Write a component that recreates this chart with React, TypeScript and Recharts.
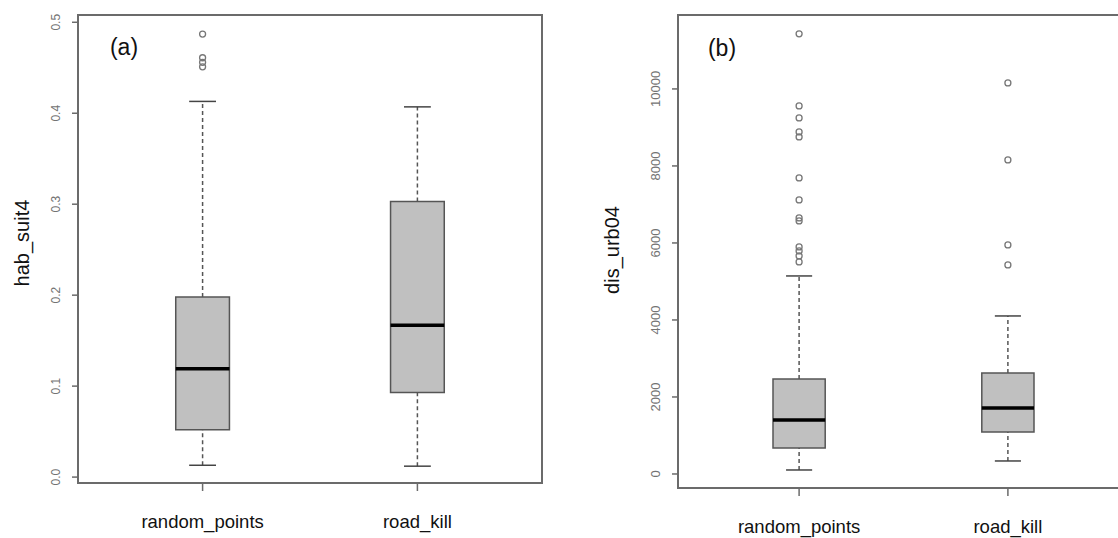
import React from "react";
import {
  ScatterChart,
  Scatter,
  XAxis,
  YAxis,
  ReferenceArea,
  ReferenceLine,
} from "recharts";

// categories shared by both panels
const categories = ["random_points", "road_kill"];

// panel (a): hab_suit4
const habTicks = [0, 0.1, 0.2, 0.3, 0.4, 0.5];
const habLow = [0.013, 0.012];
const habQ1 = [0.052, 0.093];
const habMedian = [0.119, 0.167];
const habQ3 = [0.198, 0.303];
const habHigh = [0.413, 0.407];
const habOutRandom = [0.487, 0.461, 0.456, 0.451];
const habOutRoad: number[] = [];

// panel (b): dis_urb04
const urbTicks = [0, 2000, 4000, 6000, 8000, 10000];
const urbLow = [104, 338];
const urbQ1 = [675, 1091];
const urbMedian = [1403, 1714];
const urbQ3 = [2468, 2623];
const urbHigh = [5143, 4104];
const urbOutRandom = [11430, 9558, 9247, 8883, 8753, 7688, 7117, 6650, 6571, 5896, 5792, 5662, 5507];
const urbOutRoad = [10156, 8156, 5948, 5429];

const FONT = '"Liberation Sans", Arial, Helvetica, sans-serif';
const FRAME = "#6b6b6b";
const BOX_HALF = 0.125;
const CAP_HALF = 0.0625;
const X_DOMAIN: [number, number] = [0.42, 2.58];

type Stats = {
  low: number[];
  q1: number[];
  median: number[];
  q3: number[];
  high: number[];
  outliers: number[][];
};

const outlierDot = (p: any) => (
  <circle cx={p.cx} cy={p.cy} r={3} fill="none" stroke="#777" strokeWidth={1.3} />
);

function Panel({
  width,
  height,
  axisWidth,
  axisHeight,
  rightMargin,
  yDomain,
  yTicks,
  fmt,
  tickFont,
  stats,
}: {
  width: number;
  height: number;
  axisWidth: number;
  axisHeight: number;
  rightMargin: number;
  yDomain: [number, number];
  yTicks: number[];
  fmt: (v: number) => string;
  tickFont: number;
  stats: Stats;
}) {
  const points = stats.outliers.flatMap((list, i) => list.map((v) => ({ x: i + 1, y: v })));

  const yTick = (p: any) => {
    const tx = p.x - 10;
    return (
      <text
        x={tx}
        y={p.y}
        transform={`rotate(-90 ${tx} ${p.y})`}
        textAnchor="middle"
        fontSize={tickFont}
        fontFamily={FONT}
        fill="#737373"
      >
        {fmt(p.payload.value)}
      </text>
    );
  };

  const xTick = (p: any) => (
    <text x={p.x} y={p.y + 35} textAnchor="middle" fontSize={18.5} fontFamily={FONT} fill="#111">
      {categories[p.payload.value - 1]}
    </text>
  );

  return (
    <ScatterChart
      width={width}
      height={height}
      margin={{ top: 15, right: rightMargin, bottom: 0, left: 0 }}
    >
      <XAxis
        type="number"
        dataKey="x"
        domain={X_DOMAIN}
        ticks={[1, 2]}
        allowDataOverflow
        axisLine={false}
        tickSize={8}
        tickLine={{ stroke: FRAME, strokeWidth: 1.5 }}
        tick={xTick}
        height={axisHeight}
      />
      <YAxis
        type="number"
        dataKey="y"
        domain={yDomain}
        ticks={yTicks}
        allowDataOverflow
        axisLine={false}
        tickSize={6}
        tickLine={{ stroke: FRAME, strokeWidth: 1.5 }}
        tick={yTick}
        width={axisWidth}
      />
      <ReferenceArea
        x1={X_DOMAIN[0]}
        x2={X_DOMAIN[1]}
        y1={yDomain[0]}
        y2={yDomain[1]}
        fill="none"
        stroke={FRAME}
        strokeWidth={2}
      />
      {categories.map((c, i) => {
        const x = i + 1;
        return (
          <React.Fragment key={c}>
            <ReferenceLine
              segment={[{ x, y: stats.q3[i] }, { x, y: stats.high[i] }]}
              stroke="#555"
              strokeWidth={1.5}
              strokeDasharray="4 3"
            />
            <ReferenceLine
              segment={[{ x, y: stats.low[i] }, { x, y: stats.q1[i] }]}
              stroke="#555"
              strokeWidth={1.5}
              strokeDasharray="4 3"
            />
            <ReferenceLine
              segment={[{ x: x - CAP_HALF, y: stats.high[i] }, { x: x + CAP_HALF, y: stats.high[i] }]}
              stroke="#444"
              strokeWidth={1.5}
            />
            <ReferenceLine
              segment={[{ x: x - CAP_HALF, y: stats.low[i] }, { x: x + CAP_HALF, y: stats.low[i] }]}
              stroke="#444"
              strokeWidth={1.5}
            />
            <ReferenceArea
              x1={x - BOX_HALF}
              x2={x + BOX_HALF}
              y1={stats.q1[i]}
              y2={stats.q3[i]}
              fill="#c0c0c0"
              fillOpacity={1}
              stroke="#555"
              strokeWidth={1.5}
            />
            <ReferenceLine
              segment={[{ x: x - BOX_HALF, y: stats.median[i] }, { x: x + BOX_HALF, y: stats.median[i] }]}
              stroke="#000"
              strokeWidth={3.5}
            />
          </React.Fragment>
        );
      })}
      <Scatter data={points} shape={outlierDot} isAnimationActive={false} />
    </ScatterChart>
  );
}

const labelStyle: React.CSSProperties = {
  position: "absolute",
  fontFamily: FONT,
  color: "#111",
  whiteSpace: "nowrap",
};

export default function App() {
  return (
    <div
      style={{
        position: "absolute",
        left: 0,
        top: 0,
        width: 1118,
        height: 538,
        overflow: "hidden",
        background: "#fff",
      }}
    >
      <div style={{ position: "absolute", left: 0, top: 0 }}>
        <Panel
          width={560}
          height={538}
          axisWidth={78}
          axisHeight={55}
          rightMargin={18}
          yDomain={[-0.0065, 0.508]}
          yTicks={habTicks}
          fmt={(v) => v.toFixed(1)}
          tickFont={12}
          stats={{
            low: habLow,
            q1: habQ1,
            median: habMedian,
            q3: habQ3,
            high: habHigh,
            outliers: [habOutRandom, habOutRoad],
          }}
        />
      </div>
      <div style={{ position: "absolute", left: 560, top: 0 }}>
        <Panel
          width={600}
          height={538}
          axisWidth={118}
          axisHeight={50}
          rightMargin={31}
          yDomain={[-364, 11920]}
          yTicks={urbTicks}
          fmt={(v) => String(v)}
          tickFont={13}
          stats={{
            low: urbLow,
            q1: urbQ1,
            median: urbMedian,
            q3: urbQ3,
            high: urbHigh,
            outliers: [urbOutRandom, urbOutRoad],
          }}
        />
      </div>
      <div
        style={{
          ...labelStyle,
          left: 22,
          top: 243,
          fontSize: 20,
          transform: "translate(-50%, -50%) rotate(-90deg)",
        }}
      >
        hab_suit4
      </div>
      <div
        style={{
          ...labelStyle,
          left: 612,
          top: 250,
          fontSize: 20,
          transform: "translate(-50%, -50%) rotate(-90deg)",
        }}
      >
        dis_urb04
      </div>
      <div style={{ ...labelStyle, left: 124, top: 47, fontSize: 23, transform: "translate(-50%, -50%)" }}>
        (a)
      </div>
      <div style={{ ...labelStyle, left: 722, top: 48, fontSize: 23, transform: "translate(-50%, -50%)" }}>
        (b)
      </div>
    </div>
  );
}
